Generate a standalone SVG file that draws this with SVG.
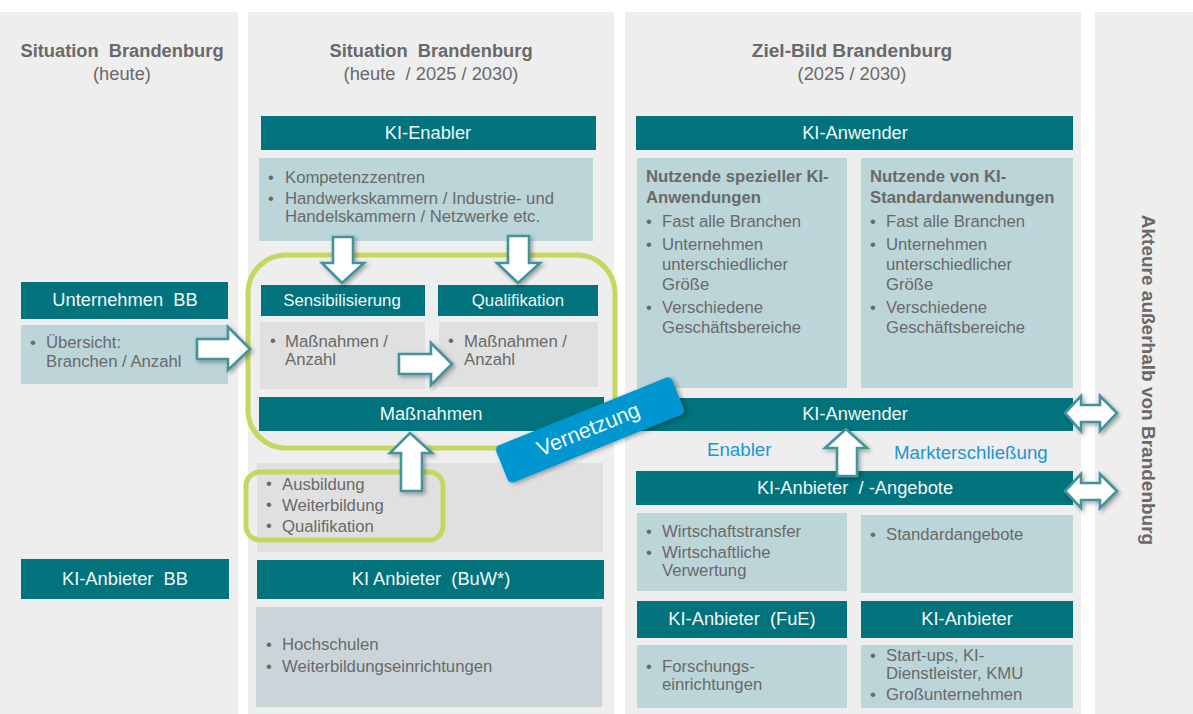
<svg xmlns="http://www.w3.org/2000/svg" width="1193" height="714" viewBox="0 0 1193 714">
<style>
text{font-family:"Liberation Sans",Arial,sans-serif;white-space:pre}
.col{fill:#eeeeee}
.hd{fill:#00737c}
.lt{fill:#bcd5d8}
.gr{fill:#e0e0e0}
.hdt{fill:#f2f8f8;font-size:18.3px;text-anchor:middle}
.hds{fill:#f2f8f8;font-size:16.8px;text-anchor:middle}
.b{fill:#696969;font-size:16.7px;transform:translateY(.6px)}
.tt{fill:#696969;font-size:18.3px;text-anchor:middle}
.ttb{fill:#696969;font-size:18.3px;font-weight:bold;text-anchor:middle}
.h{fill:#696969;font-size:16.7px;font-weight:bold}
.ring{fill:none;stroke:#c5d75f;stroke-width:5}
.arr{fill:#ffffff;stroke:#43939b;stroke-width:2.6;stroke-linejoin:miter;filter:url(#sh)}
.blue{fill:#1c96d6;font-size:18.7px}
</style>
<defs>
<filter id="sh" x="-30%" y="-30%" width="170%" height="170%"><feDropShadow dx="2" dy="2" stdDeviation="2" flood-color="#000000" flood-opacity="0.35"/></filter>
</defs>
<g id="columns">
<rect class="col" x="0" y="12" width="238" height="702"/>
<rect class="col" x="248" y="12" width="366" height="702"/>
<rect class="col" x="625" y="12" width="456" height="702"/>
<rect class="col" x="1095" y="12" width="98" height="702"/>
</g>
<g id="titles">
<text class="ttb" x="122" y="57">Situation  Brandenburg</text>
<text class="tt" x="122" y="80">(heute)</text>
<text class="ttb" x="431" y="57">Situation  Brandenburg</text>
<text class="tt" x="431" y="80">(heute  / 2025 / 2030)</text>
<text class="ttb" x="852" y="57" style="font-size:19.1px">Ziel-Bild Brandenburg</text>
<text class="tt" x="852" y="80">(2025 / 2030)</text>
<text class="ttb" transform="translate(1142 380) rotate(90)" style="font-size:19px">Akteure außerhalb von Brandenburg</text>
</g>
<g id="node-unternehmen">
<rect class="hd" x="21" y="282" width="207" height="37"/>
<text class="hdt" x="125" y="306">Unternehmen  BB</text>
<rect class="lt" x="21" y="325" width="207" height="59"/>
<text class="b" x="30" y="347">•</text>
<text class="b" x="46" y="347">Übersicht:</text>
<text class="b" x="46" y="366">Branchen / Anzahl</text>
</g>
<g id="node-ki-anbieter-bb">
<rect class="hd" x="21" y="559" width="208" height="40"/>
<text class="hdt" x="125" y="585">KI-Anbieter  BB</text>
</g>
<g id="node-ki-enabler">
<rect class="hd" x="261" y="116" width="335" height="34"/>
<text class="hdt" x="428" y="139">KI-Enabler</text>
<rect class="lt" x="259" y="158" width="334" height="83"/>
<text class="b" x="268" y="182">•</text>
<text class="b" x="285" y="182">Kompetenzzentren</text>
<text class="b" x="268" y="203">•</text>
<text class="b" x="285" y="203">Handwerkskammern / Industrie- und</text>
<text class="b" x="285" y="221">Handelskammern / Netzwerke etc.</text>
</g>
<g id="node-sensibilisierung">
<rect class="hd" x="261" y="285" width="164" height="31"/>
<text class="hds" x="342" y="306">Sensibilisierung</text>
<rect class="gr" x="260" y="322" width="165" height="67"/>
<text class="b" x="270" y="345">•</text>
<text class="b" x="285" y="346">Maßnahmen /</text>
<text class="b" x="285" y="364">Anzahl</text>
</g>
<g id="node-qualifikation">
<rect class="hd" x="438" y="285" width="160" height="31"/>
<text class="hds" x="518" y="306">Qualifikation</text>
<rect class="gr" x="439" y="322" width="159" height="65"/>
<text class="b" x="448" y="345">•</text>
<text class="b" x="464" y="346">Maßnahmen /</text>
<text class="b" x="464" y="364">Anzahl</text>
</g>
<g id="node-massnahmen">
<rect class="hd" x="259" y="397" width="345" height="34"/>
<text class="hdt" x="431" y="420">Maßnahmen</text>
</g>
<g id="node-ausbildung">
<rect class="gr" x="257" y="463" width="346" height="89"/>
<text class="b" x="266" y="488">•</text>
<text class="b" x="282" y="489">Ausbildung</text>
<text class="b" x="266" y="509">•</text>
<text class="b" x="282" y="510">Weiterbildung</text>
<text class="b" x="266" y="530">•</text>
<text class="b" x="282" y="531">Qualifikation</text>
</g>
<g id="node-buw">
<rect class="hd" x="257" y="560" width="347" height="39"/>
<text class="hdt" x="431" y="585">KI Anbieter  (BuW*)</text>
<rect x="256" y="607" width="346" height="100" fill="#cbd5d9"/>
<text class="b" x="266" y="649">•</text>
<text class="b" x="282" y="649">Hochschulen</text>
<text class="b" x="266" y="671">•</text>
<text class="b" x="282" y="671">Weiterbildungseinrichtungen</text>
</g>
<g id="node-ki-anwender">
<rect class="hd" x="636" y="116" width="437" height="34"/>
<text class="hdt" x="855" y="139">KI-Anwender</text>
<rect class="lt" x="637" y="158" width="210" height="230"/>
<text class="h" x="646" y="182">Nutzende spezieller KI-</text>
<text class="h" x="646" y="203">Anwendungen</text>
<text class="b" x="646" y="226">•</text>
<text class="b" x="662" y="226">Fast alle Branchen</text>
<text class="b" x="646" y="249">•</text>
<text class="b" x="662" y="249">Unternehmen</text>
<text class="b" x="662" y="269">unterschiedlicher</text>
<text class="b" x="662" y="289">Größe</text>
<text class="b" x="646" y="312">•</text>
<text class="b" x="662" y="312">Verschiedene</text>
<text class="b" x="662" y="332">Geschäftsbereiche</text>
<rect class="lt" x="861" y="158" width="212" height="230"/>
<text class="h" x="870" y="182">Nutzende von KI-</text>
<text class="h" x="870" y="203">Standardanwendungen</text>
<text class="b" x="870" y="226">•</text>
<text class="b" x="886" y="226">Fast alle Branchen</text>
<text class="b" x="870" y="249">•</text>
<text class="b" x="886" y="249">Unternehmen</text>
<text class="b" x="886" y="269">unterschiedlicher</text>
<text class="b" x="886" y="289">Größe</text>
<text class="b" x="870" y="312">•</text>
<text class="b" x="886" y="312">Verschiedene</text>
<text class="b" x="886" y="332">Geschäftsbereiche</text>
</g>
<g id="node-ki-anwender-2">
<rect class="hd" x="636" y="398" width="437" height="33"/>
<text class="hdt" x="855" y="420">KI-Anwender</text>
</g>
<g id="node-labels">
<text class="blue" x="707" y="456">Enabler</text>
<text class="blue" x="894" y="459">Markterschließung</text>
</g>
<g id="node-ki-anbieter-angebote">
<rect class="hd" x="636" y="471" width="437" height="34"/>
<text class="hdt" x="855" y="494">KI-Anbieter  / -Angebote</text>
<rect class="lt" x="637" y="513" width="210" height="78"/>
<text class="b" x="646" y="536">•</text>
<text class="b" x="662" y="536">Wirtschaftstransfer</text>
<text class="b" x="646" y="557">•</text>
<text class="b" x="662" y="557">Wirtschaftliche</text>
<text class="b" x="662" y="575">Verwertung</text>
<rect class="lt" x="861" y="515" width="212" height="78"/>
<text class="b" x="870" y="539">•</text>
<text class="b" x="886" y="539">Standardangebote</text>
</g>
<g id="node-fue">
<rect class="hd" x="637" y="601" width="210" height="37"/>
<text class="hdt" x="742" y="625">KI-Anbieter  (FuE)</text>
<rect class="lt" x="637" y="645" width="210" height="63"/>
<text class="b" x="646" y="671">•</text>
<text class="b" x="662" y="671">Forschungs-</text>
<text class="b" x="662" y="689">einrichtungen</text>
</g>
<g id="node-ki-anbieter">
<rect class="hd" x="861" y="601" width="212" height="37"/>
<text class="hdt" x="967" y="625">KI-Anbieter</text>
<rect class="lt" x="861" y="645" width="212" height="63"/>
<text class="b" x="870" y="660">•</text>
<text class="b" x="886" y="660">Start-ups, KI-</text>
<text class="b" x="886" y="678">Dienstleister, KMU</text>
<text class="b" x="870" y="699">•</text>
<text class="b" x="886" y="699">Großunternehmen</text>
</g>
<g id="rings">
<rect class="ring" x="248" y="255" width="367" height="193" rx="38"/>
<rect class="ring" x="246" y="472" width="197" height="68" rx="14"/>
</g>
<g id="connectors">
<path class="arr" d="M333 237H353V263H364L342 283L322 263H333Z"/>
<path class="arr" d="M508 236H529V263H540L518 283L497 263H508Z"/>
<path class="arr" d="M197 339H228V327L250 349L228 370V359H197Z"/>
<path class="arr" d="M399 354H431V343L452 364L431 385V374H399Z"/>
<path class="arr" d="M401 491V453H390L410 433L432 453H422V491Z"/>
<path class="arr" d="M837 476V448H825L846 429L867 448H857V476Z"/>
<path class="arr" d="M1065 413L1081 396V405H1100V396L1117 413L1100 431V422H1081V431Z"/>
<path class="arr" d="M1065 491L1081 474V483H1100V474L1117 491L1100 508V500H1081V508Z"/>
</g>
<g id="node-vernetzung">
<rect x="-95" y="-20" width="190" height="40" rx="5" fill="#0097d0" transform="translate(590 430) rotate(-22)" style="filter:url(#sh)"/>
<text transform="translate(591 436) rotate(-22)" fill="#f2f8fb" font-size="21.5" text-anchor="middle">Vernetzung</text>
</g>
</svg>
